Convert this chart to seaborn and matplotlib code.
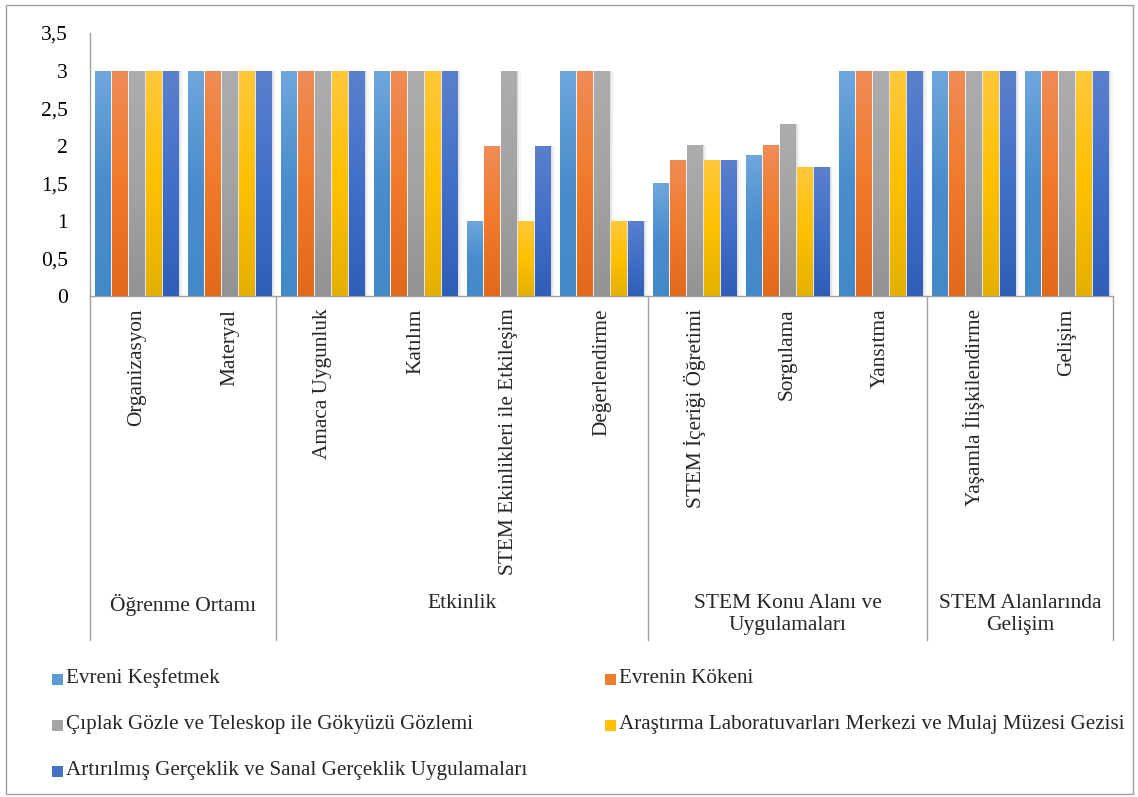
import numpy as np
import pandas as pd
import matplotlib.pyplot as plt
import matplotlib.patches as mpatches
from matplotlib.colors import LinearSegmentedColormap
from matplotlib.ticker import FuncFormatter
import seaborn as sns

# Veriler
kategoriler = ["Organizasyon", "Materyal", "Amaca Uygunluk", "Katılım",
               "STEM Ekinlikleri ile Etkileşim", "Değerlendirme",
               "STEM İçeriği Öğretimi", "Sorgulama", "Yansıtma",
               "Yaşamla İlişkilendirme", "Gelişim"]
gruplar = ["Öğrenme Ortamı", "Etkinlik", "STEM Konu Alanı ve\nUygulamaları",
           "STEM Alanlarında\nGelişim"]
grup_boyut = [2, 4, 3, 2]
seriler = ["Evreni Keşfetmek", "Evrenin Kökeni",
           "Çıplak Gözle ve Teleskop ile Gökyüzü Gözlemi",
           "Araştırma Laboratuvarları Merkezi ve Mulaj Müzesi Gezisi",
           "Artırılmış Gerçeklik ve Sanal Gerçeklik Uygulamaları"]
evreni_kesfetmek = [3, 3, 3, 3, 1, 3, 1.5, 1.87, 3, 3, 3]
evrenin_kokeni = [3, 3, 3, 3, 2, 3, 1.81, 2.01, 3, 3, 3]
gokyuzu_gozlemi = [3, 3, 3, 3, 3, 3, 2.01, 2.29, 3, 3, 3]
laboratuvar_gezisi = [3, 3, 3, 3, 1, 1, 1.81, 1.72, 3, 3, 3]
ar_vr = [3, 3, 3, 3, 2, 1, 1.81, 1.72, 3, 3, 3]

renkler = ["#5b9bd5", "#ed7d31", "#a5a5a5", "#ffc000", "#4472c4"]
gradyanlar = [("#6fa7dc", "#4a8ccc", "#4389c8"),
              ("#f08c56", "#f07a2a", "#e06a1a"),
              ("#adadad", "#a3a3a3", "#939393"),
              ("#ffc83c", "#ffc000", "#e4b000"),
              ("#5a80cd", "#4270c8", "#2f5eb8")]

degerler = [evreni_kesfetmek, evrenin_kokeni, gokyuzu_gozlemi,
            laboratuvar_gezisi, ar_vr]
df = pd.DataFrame({
    "Kategori": np.tile(kategoriler, len(seriler)),
    "Seri": np.repeat(seriler, len(kategoriler)),
    "Deger": np.concatenate(degerler),
})

sns.set_theme(style="white")
plt.rcParams["font.family"] = ["Liberation Serif", "DejaVu Serif"]

fig = plt.figure(figsize=(11.38, 7.97), dpi=100)
W, H = 1138, 797
ax = fig.add_axes([90 / W, 1 - 296 / H, (1113 - 90) / W, (296 - 33) / H])

sns.barplot(data=df, x="Kategori", y="Deger", hue="Seri", palette=renkler,
            width=0.92, gap=0.12, ax=ax, legend=False, saturation=1)

# Gradyan dolgu ve hafif gölge
for i, cont in enumerate(ax.containers):
    cmap = LinearSegmentedColormap.from_list(f"g{i}", gradyanlar[i][::-1])
    grad = np.linspace(0, 1, 256).reshape(-1, 1)
    for p in cont.patches:
        x, w, h = p.get_x(), p.get_width(), p.get_height()
        for k, a in enumerate([0.10, 0.07, 0.04]):
            sh = mpatches.Rectangle((x + w * (0.10 + 0.10 * k), 0), w, h,
                                    facecolor="#404040", edgecolor="none",
                                    alpha=a, zorder=1)
            ax.add_patch(sh)
        p.set_zorder(3)
        im = ax.imshow(grad, extent=[x, x + w, 0, h], origin="lower",
                       aspect="auto", cmap=cmap, zorder=4)
        im.set_clip_path(p)

ax.set_xlim(-0.5, len(kategoriler) - 0.5)
ax.set_ylim(0, 3.5)
ax.set_yticks(np.arange(0, 3.51, 0.5))
ax.yaxis.set_major_formatter(FuncFormatter(lambda v, _: f"{v:g}".replace(".", ",")))
ax.tick_params(axis="y", labelsize=15.5, pad=16, length=0, colors="black")
ax.set_xticks(range(len(kategoriler)))
ax.set_xticklabels(kategoriler, rotation=90, fontsize=15.3, va="top", ha="center")
ax.tick_params(axis="x", length=0, pad=9)
ax.set_xlabel("")
ax.set_ylabel("")
for s in ["top", "right"]:
    ax.spines[s].set_visible(False)
for s in ["left", "bottom"]:
    ax.spines[s].set_color("#a0a0a0")
    ax.spines[s].set_linewidth(1.0)

# Çok düzeyli eksen: grup ayırıcıları ve grup etiketleri
alt = 640
yax = 296
sinir = np.concatenate([[0], np.cumsum(grup_boyut)])
for b in sinir:
    xd = ax.transData.transform((b - 0.5, 0))[0]
    fx = xd / fig.dpi / fig.get_figwidth()
    fig.add_artist(plt.Line2D([fx, fx], [1 - yax / H, 1 - alt / H],
                              color="#a0a0a0", lw=1.0))
for g, (a, b) in enumerate(zip(sinir[:-1], sinir[1:])):
    orta = (a + b - 1) / 2
    xd = ax.transData.transform((orta, 0))[0]
    fx = xd / fig.dpi / fig.get_figwidth()
    fig.text(fx, 1 - 594 / H, gruplar[g], ha="center", va="top",
             fontsize=15.5, linespacing=1.22)

# Lejant (iki sütun, elle yerleştirilmiş)
lejant_yer = [(52, 678), (605, 678), (52, 724), (605, 724), (52, 770)]
for i, (lx, ly) in enumerate(lejant_yer):
    fig.add_artist(mpatches.Rectangle((lx / W, 1 - (ly + 6.5) / H), 11 / W, 11 / H,
                                      transform=fig.transFigure,
                                      facecolor=renkler[i], edgecolor="none"))
    fig.text((lx + 14) / W, 1 - (ly + 0.5) / H, seriler[i], ha="left",
             va="center", fontsize=15.2)

# Dış çerçeve
fig.add_artist(mpatches.Rectangle((6 / W, 3 / H), 1127 / W, 789 / H,
                                  transform=fig.transFigure, fill=False,
                                  edgecolor="#a0a0a0", lw=1.0))

fig.savefig("out.png", dpi=100)
